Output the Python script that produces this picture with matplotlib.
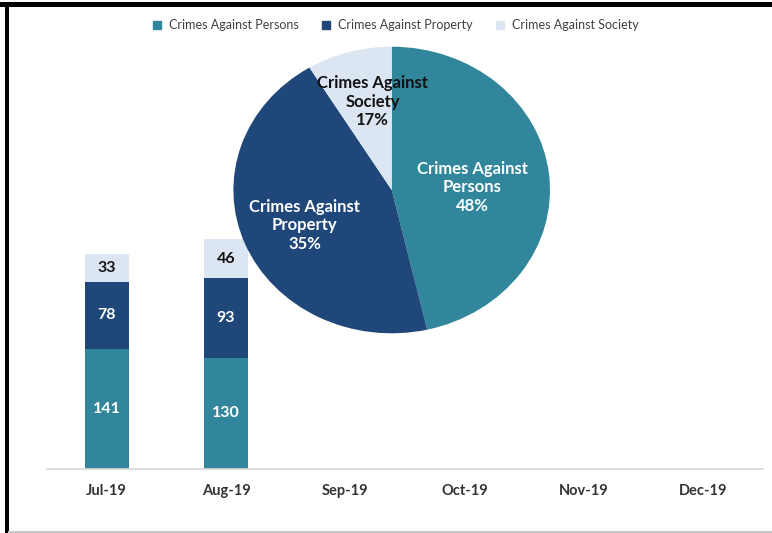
import matplotlib
matplotlib.use("Agg")
import matplotlib.pyplot as plt
from matplotlib.lines import Line2D
from matplotlib.patches import Rectangle

plt.rcParams['font.family'] = ['Lato', 'DejaVu Sans']

months = ["Jul-19", "Aug-19", "Sep-19", "Oct-19", "Nov-19", "Dec-19"]
persons = [141, 130]
property_ = [78, 93]
society = [33, 46]
series_names = ["Crimes Against Persons", "Crimes Against Property", "Crimes Against Society"]
colors = ["#31869B", "#1F477A", "#DCE6F2"]
text_colors = ["white", "white", "#111111"]

# pie wedge sizes as drawn, and the labels shown on it
pie_sizes = [46.4, 44.9, 8.7]
pie_labels = ["Crimes Against\nPersons\n48%", "Crimes Against\nProperty\n35%", "Crimes Against\nSociety\n17%"]
pie_label_pos = [(0.51, 0.02), (-0.55, -0.245), (-0.12, 0.615)]

W, H = 772, 533
fig = plt.figure(figsize=(W / 100, H / 100), dpi=100)

ax = fig.add_axes([47 / W, 64 / H, 716 / W, 429 / H])
x = list(range(len(months)))
n = len(persons)
bottoms = [0] * n
for vals, col, tc in zip([persons, property_, society], colors, text_colors):
    bars = ax.bar(x[:n], vals, width=0.37, bottom=bottoms, color=col, edgecolor='none', zorder=2)
    for b, v, bt in zip(bars, vals, bottoms):
        ax.text(b.get_x() + b.get_width() / 2, bt + v / 2, str(v), ha='center', va='center',
                color=tc, fontsize=11.5, fontweight='bold', zorder=3)
    bottoms = [bt + v for bt, v in zip(bottoms, vals)]

ax.set_xlim(-0.5, len(months) - 0.5)
ax.set_ylim(0, 502)
ax.set_xticks(x)
ax.set_xticklabels(months, fontsize=10.5, fontweight='bold', color='#333333')
ax.tick_params(axis='x', length=0, pad=11)
ax.set_yticks([])
for s in ['top', 'right', 'left']:
    ax.spines[s].set_visible(False)
ax.spines['bottom'].set_color('#D9D9D9')
ax.spines['bottom'].set_linewidth(1.3)

# legend
handles = [Line2D([0], [0], marker='s', linestyle='none', markersize=6, markerfacecolor=c,
                  markeredgecolor=c) for c in colors]
fig.legend(handles, series_names, loc='center', bbox_to_anchor=(395 / W, 1 - 25 / H), ncol=3,
           frameon=False, fontsize=9, handletextpad=0.45, columnspacing=1.7, labelcolor='#404040',
           handlelength=1.0)

# pie
pax = fig.add_axes([233.4 / W, (H - 333.3) / H, 316.6 / W, 286.6 / H])
wedges, texts = pax.pie(pie_sizes, labels=pie_labels, colors=colors, startangle=90,
                        counterclock=False, labeldistance=0.6,
                        wedgeprops=dict(linewidth=0),
                        textprops=dict(fontsize=12, fontweight='bold', linespacing=1.2))
for t, tc, pos in zip(texts, text_colors, pie_label_pos):
    t.set_ha('center')
    t.set_va('center')
    t.set_color(tc)
    t.set_position(pos)
pax.set_aspect('auto')
pax.set_xlim(-1, 1)
pax.set_ylim(-1, 1)
pax.axis('off')

# frame
fig.patches.append(Rectangle((0, 1 - 7 / H), 1, 5 / H, transform=fig.transFigure,
                             facecolor='black', edgecolor='none'))
fig.patches.append(Rectangle((5 / W, 0), 4 / W, 1 - 2 / H, transform=fig.transFigure,
                             facecolor='black', edgecolor='none'))
fig.lines.append(Line2D([9 / W, 1], [1.5 / H, 1.5 / H], transform=fig.transFigure,
                        color='#C8C8C8', linewidth=1.5))

fig.savefig("out.png", dpi=100)
